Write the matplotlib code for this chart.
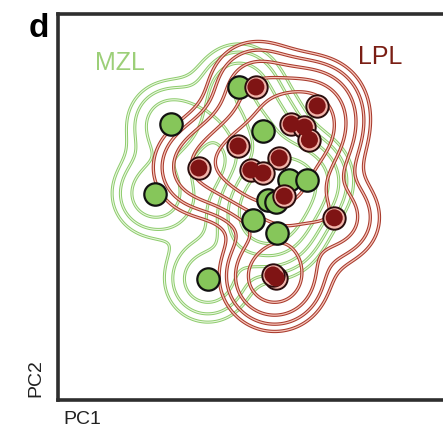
import numpy as np
import matplotlib
matplotlib.use("Agg")
import matplotlib.pyplot as plt

# MZL (green) sample coordinates in PC space (arbitrary units)
mzl_pc1 = [46.6, 29.0, 52.8, 25.1, 59.6, 64.2, 54.1, 50.3, 56.5, 38.6, 56.2]
mzl_pc2 = [81.1, 71.5, 69.7, 53.4, 57.0, 57.0, 51.8, 46.6, 43.3, 31.3, 51.3]
# LPL (red) sample coordinates
lpl_pc1 = [51.0, 66.8, 60.1, 63.5, 64.8, 46.4, 57.0, 36.3, 49.7, 52.8, 58.3, 71.2, 56.2, 55.4]
lpl_pc2 = [81.1, 76.2, 71.5, 70.7, 67.4, 65.8, 62.7, 60.1, 59.6, 58.8, 52.8, 47.2, 31.6, 32.4]

density_levels = [0.06, 0.1, 0.17, 0.3, 0.5]

def kde(xs, ys, gx, gy, bw):
    xs = np.asarray(xs)[:, None, None]
    ys = np.asarray(ys)[:, None, None]
    d = np.exp(-((gx - xs) ** 2 + (gy - ys) ** 2) / (2 * bw ** 2)).sum(axis=0)
    return d / d.max()

fig = plt.figure(figsize=(4.43, 4.32), dpi=100)
ax = fig.add_axes([58 / 443, 32 / 432, 388 / 443, 386 / 432])
ax.set_xlim(0, 100)
ax.set_ylim(0, 100)

gx, gy = np.meshgrid(np.linspace(0, 100, 400), np.linspace(0, 100, 400))
dg = kde(mzl_pc1, mzl_pc2, gx, gy, 6.5)
dr = kde(lpl_pc1, lpl_pc2, gx, gy, 7.0)

ax.contour(gx, gy, dg, levels=density_levels, colors="#8dcc6c", linewidths=2.2, zorder=1)
ax.contour(gx, gy, dg, levels=density_levels, colors="#eaf6e0", linewidths=0.8, zorder=1)
ax.contour(gx, gy, dr, levels=density_levels, colors="#a83a2c", linewidths=2.4, zorder=2)
ax.contour(gx, gy, dr, levels=density_levels, colors="#f6c6bc", linewidths=0.9, zorder=2)

ax.scatter(mzl_pc1, mzl_pc2, s=260, c="#86c65a", edgecolors="#111111", linewidths=1.6, zorder=3)
ax.scatter(lpl_pc1, lpl_pc2, s=260, c="#f2b4aa", edgecolors="#2a0c0c", linewidths=1.4, zorder=4)
ax.scatter(lpl_pc1, lpl_pc2, s=150, c="#7f1414", edgecolors="none", zorder=5)

ax.set_xticks([])
ax.set_yticks([])
for side in ["left", "bottom", "top", "right"]:
    ax.spines[side].set_linewidth(2.6)
    ax.spines[side].set_color("#2e2e2e")

fig.text(120 / 443, 1 - 63 / 432, "MZL", color="#9ccf78", fontsize=18,
         ha="center", va="center", family="Liberation Sans")
fig.text(380 / 443, 1 - 57 / 432, "LPL", color="#7a1e14", fontsize=18,
         ha="center", va="center", family="Liberation Sans")
fig.text(29 / 443, 1 - 37 / 432, "d", fontsize=24, fontweight="bold",
         ha="left", va="baseline", family="Liberation Sans")
fig.text(36 / 443, 1 - 378 / 432, "PC2", fontsize=14, rotation=90,
         ha="center", va="center", family="Liberation Sans", color="#222222")
fig.text(82 / 443, 1 - 419 / 432, "PC1", fontsize=14,
         ha="center", va="center", family="Liberation Sans", color="#222222")

fig.savefig("out.png", dpi=100)
